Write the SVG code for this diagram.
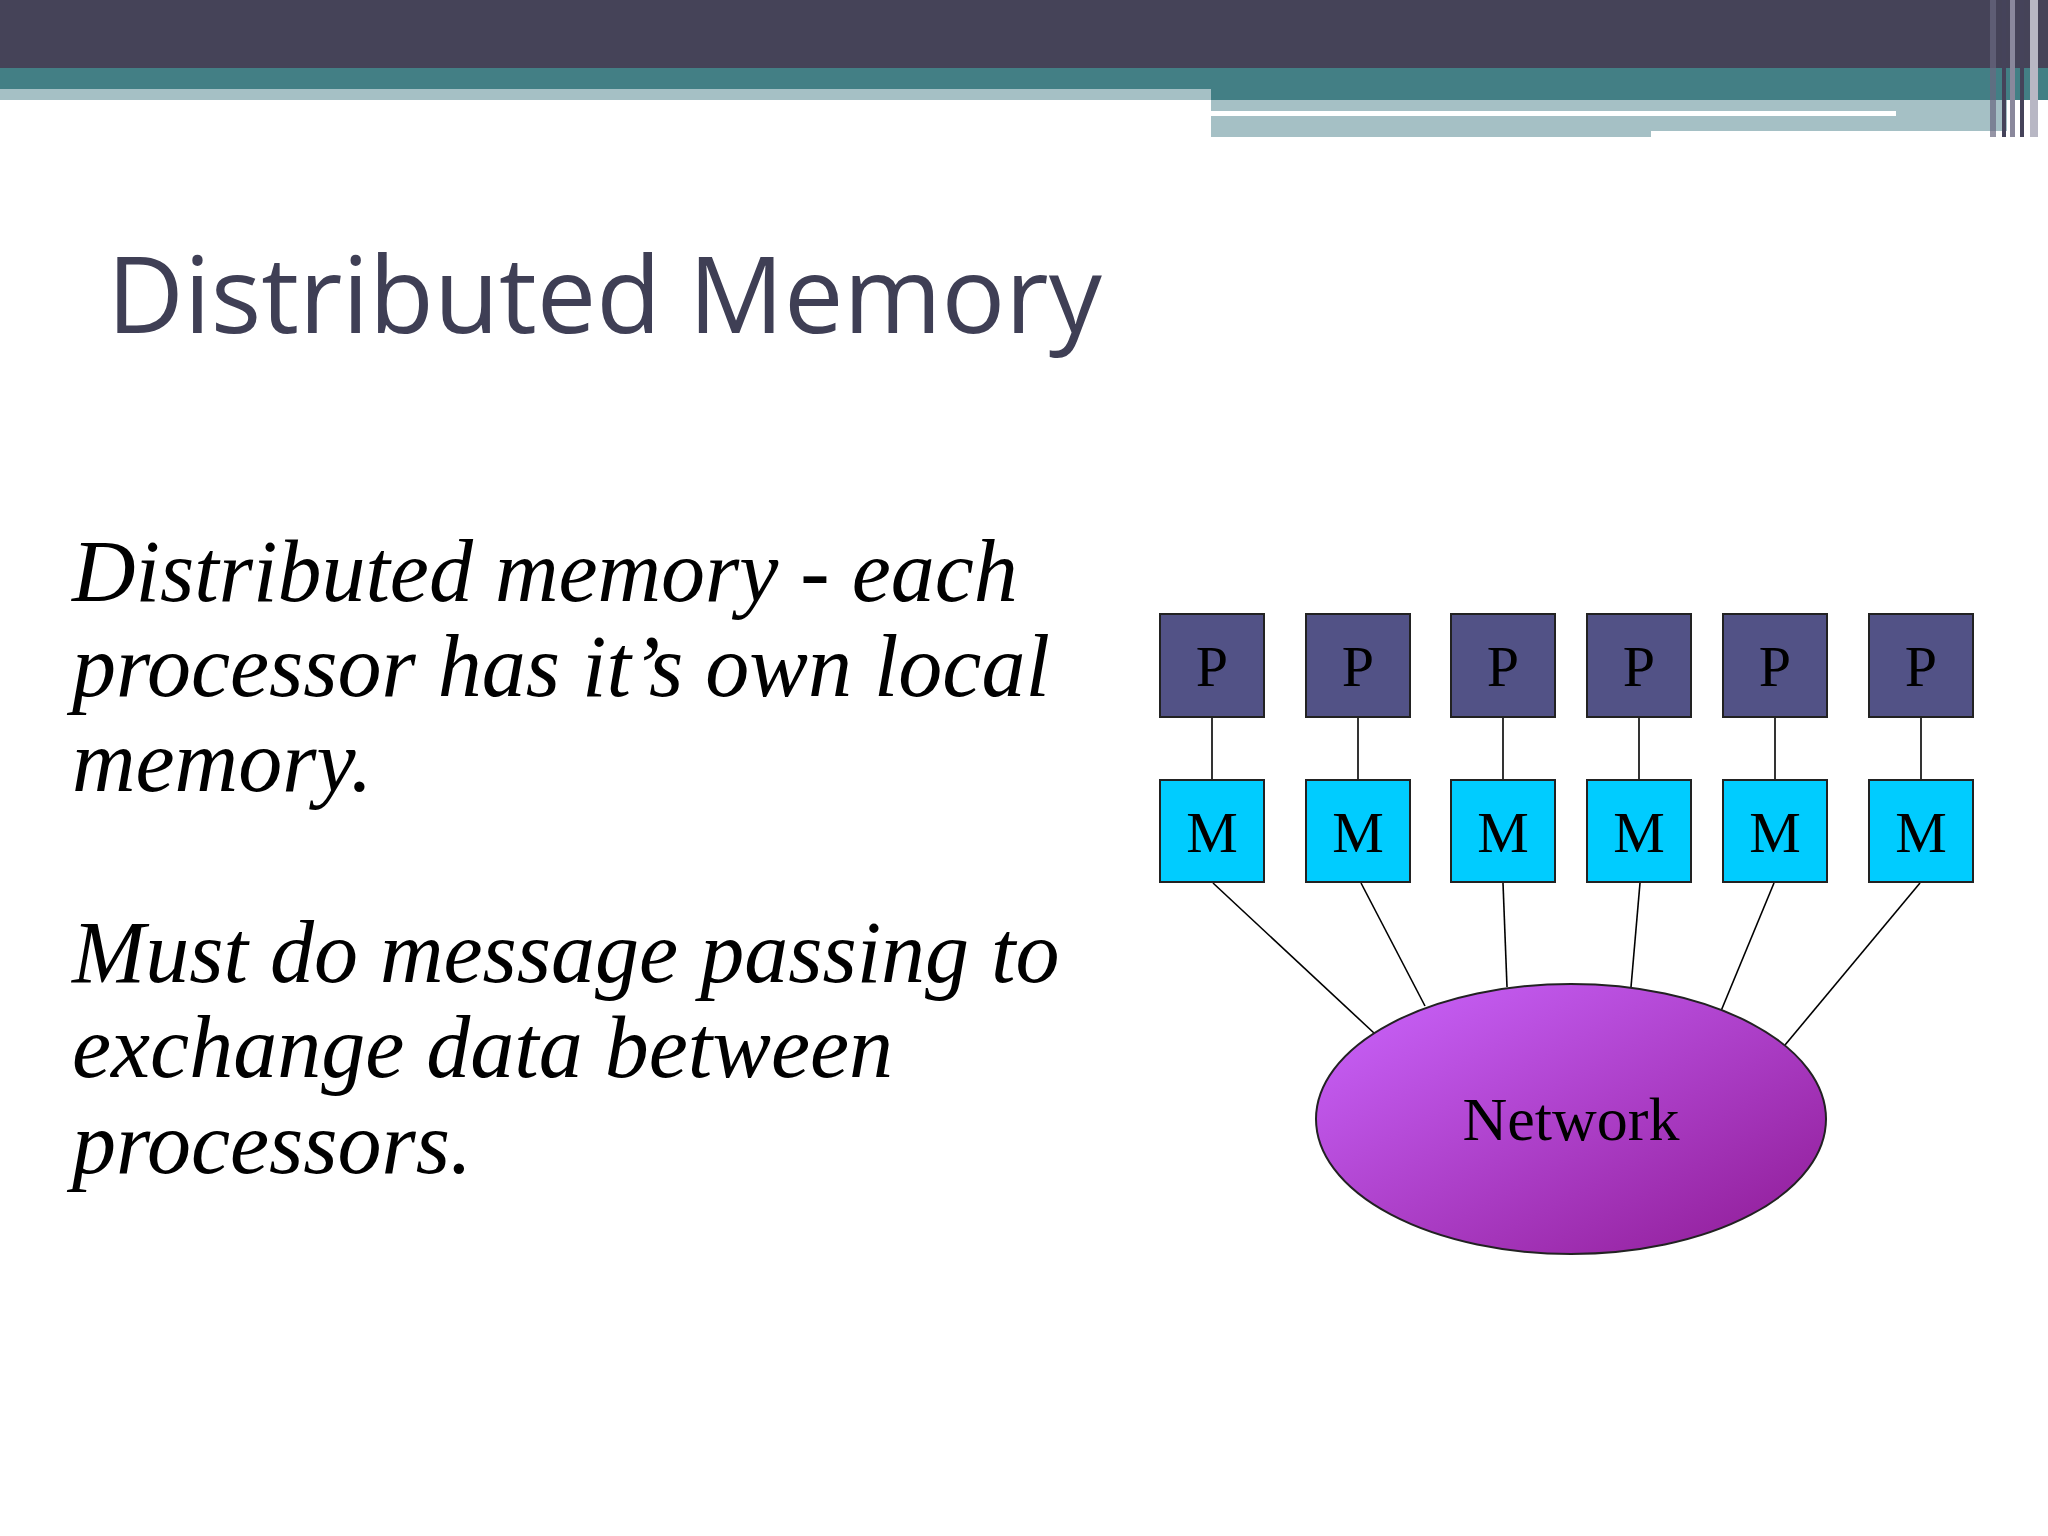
<svg xmlns="http://www.w3.org/2000/svg" width="2048" height="1536" viewBox="0 0 2048 1536">
<defs>
<style>
.p{fill:#525286;stroke:#222;stroke-width:2}
.m{fill:#00ccff;stroke:#222;stroke-width:2}
.lb{font-family:"Liberation Serif",serif;font-size:58px;text-anchor:middle;fill:#000}
.body{font-family:"Liberation Serif",serif;font-style:italic;font-size:88px;fill:#000}
.c{stroke:#000;stroke-width:1.6}
</style>
<linearGradient id="g" x1="0" y1="0" x2="1" y2="1">
<stop offset="0" stop-color="#cc66ff"/><stop offset="1" stop-color="#8e1a94"/>
</linearGradient>
</defs>
<rect width="2048" height="1536" fill="#fff"/>
<g id="banner">
<rect x="0" y="0" width="2048" height="68" fill="#454358"/>
<rect x="0" y="68" width="1211" height="21" fill="#437f85"/>
<rect x="0" y="89" width="1211" height="11" fill="#a5c0c5"/>
<rect x="1211" y="68" width="837" height="32" fill="#437f85"/>
<rect x="1211" y="100" width="796" height="37" fill="#a5c0c5"/>
<rect x="1211" y="111" width="685" height="5" fill="#fff"/>
<rect x="1651" y="131" width="356" height="6" fill="#fff"/>
<rect x="1990" y="0" width="6" height="137" fill="#6a6880" opacity="0.7"/>
<rect x="2002" y="0" width="4" height="137" fill="#45435a"/>
<rect x="2010" y="0" width="5" height="137" fill="#8a889c"/>
<rect x="2020" y="0" width="4" height="137" fill="#45435a"/>
<rect x="2030" y="0" width="8" height="137" fill="#b8b7c4"/>
</g>
<text id="title" x="107" y="333" font-family="Open Sans, DejaVu Sans, sans-serif" font-size="106" fill="#3f3f55">Distributed Memory</text>
<g id="text">
<text class="body" x="72" y="601">Distributed memory - each</text>
<text class="body" x="72" y="696">processor has it’s own local</text>
<text class="body" x="72" y="791">memory.</text>
<text class="body" x="72" y="982">Must do message passing to</text>
<text class="body" x="72" y="1077">exchange data between</text>
<text class="body" x="72" y="1173">processors.</text>
</g>
<g id="connectors">
<line class="c" x1="1212" y1="717" x2="1212" y2="780"/>
<line class="c" x1="1358" y1="717" x2="1358" y2="780"/>
<line class="c" x1="1503" y1="717" x2="1503" y2="780"/>
<line class="c" x1="1639" y1="717" x2="1639" y2="780"/>
<line class="c" x1="1775" y1="717" x2="1775" y2="780"/>
<line class="c" x1="1921" y1="717" x2="1921" y2="780"/>
<line class="c" x1="1213" y1="883" x2="1374" y2="1033"/>
<line class="c" x1="1361" y1="883" x2="1425" y2="1006"/>
<line class="c" x1="1503" y1="883" x2="1507" y2="987"/>
<line class="c" x1="1640" y1="883" x2="1631" y2="987"/>
<line class="c" x1="1774" y1="883" x2="1721" y2="1011"/>
<line class="c" x1="1920" y1="883" x2="1785" y2="1045"/>
</g>
<g id="P1"><rect class="p" x="1160" y="614" width="104" height="103"/><text class="lb" x="1212" y="686">P</text></g>
<g id="P2"><rect class="p" x="1306" y="614" width="104" height="103"/><text class="lb" x="1358" y="686">P</text></g>
<g id="P3"><rect class="p" x="1451" y="614" width="104" height="103"/><text class="lb" x="1503" y="686">P</text></g>
<g id="P4"><rect class="p" x="1587" y="614" width="104" height="103"/><text class="lb" x="1639" y="686">P</text></g>
<g id="P5"><rect class="p" x="1723" y="614" width="104" height="103"/><text class="lb" x="1775" y="686">P</text></g>
<g id="P6"><rect class="p" x="1869" y="614" width="104" height="103"/><text class="lb" x="1921" y="686">P</text></g>
<g id="M1"><rect class="m" x="1160" y="780" width="104" height="102"/><text class="lb" x="1212" y="852">M</text></g>
<g id="M2"><rect class="m" x="1306" y="780" width="104" height="102"/><text class="lb" x="1358" y="852">M</text></g>
<g id="M3"><rect class="m" x="1451" y="780" width="104" height="102"/><text class="lb" x="1503" y="852">M</text></g>
<g id="M4"><rect class="m" x="1587" y="780" width="104" height="102"/><text class="lb" x="1639" y="852">M</text></g>
<g id="M5"><rect class="m" x="1723" y="780" width="104" height="102"/><text class="lb" x="1775" y="852">M</text></g>
<g id="M6"><rect class="m" x="1869" y="780" width="104" height="102"/><text class="lb" x="1921" y="852">M</text></g>
<g id="network"><ellipse cx="1571" cy="1119" rx="255" ry="135" fill="url(#g)" stroke="#222" stroke-width="2"/><text class="lb" x="1571" y="1140" style="font-size:62px">Network</text></g>
</svg>
